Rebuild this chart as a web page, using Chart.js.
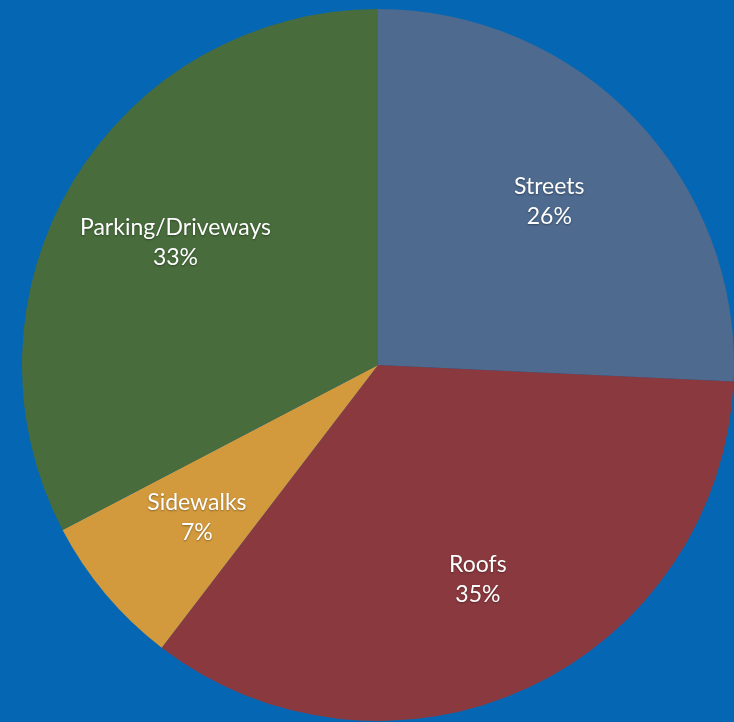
<!DOCTYPE html>
<html>
<head>
<meta charset="utf-8">
<script src="https://cdn.jsdelivr.net/npm/chart.js@4/dist/chart.umd.min.js"></script>
<style>
  html, body { margin: 0; padding: 0; width: 734px; height: 722px; overflow: hidden; background: #0567b3; }
  #wrap { position: absolute; left: 22px; top: 9px; width: 712px; height: 712px; }
</style>
</head>
<body>
<div id="wrap"><canvas id="pieChart" width="712" height="712"></canvas></div>
<script>
const categories = ['Streets', 'Roofs', 'Sidewalks', 'Parking/Driveways'];
const shares = [26, 35, 7, 33];
const sliceColors = ['#4e6a8e', '#8a3a3f', '#d39a3d', '#486c3c'];

// draws "Name" / "NN%" inside each slice, at about 2/3 of the radius
const sliceLabels = {
    id: 'sliceLabels',
    afterDatasetsDraw(chart) {
        const ctx = chart.ctx;
        const arcs = chart.getDatasetMeta(0).data;
        ctx.save();
        ctx.fillStyle = '#ffffff';
        ctx.font = '23px Lato, "Open Sans", sans-serif';
        ctx.textAlign = 'center';
        ctx.textBaseline = 'middle';
        ctx.shadowColor = 'rgba(0,0,0,0.35)';
        ctx.shadowBlur = 2;
        ctx.shadowOffsetY = 1;
        arcs.forEach((arc, i) => {
            const p = arc.getProps(['x', 'y', 'startAngle', 'endAngle', 'outerRadius'], true);
            const mid = (p.startAngle + p.endAngle) / 2;
            const r = p.outerRadius * 0.665;
            const x = p.x + Math.cos(mid) * r;
            const y = p.y + Math.sin(mid) * r;
            ctx.fillText(categories[i], x, y - 15);
            ctx.fillText(shares[i] + '%', x, y + 15);
        });
        ctx.restore();
    }
};

const ctx = document.getElementById('pieChart').getContext('2d');
const pieChart = new Chart(ctx, {
    type: 'pie',
    data: {
        labels: categories,
        datasets: [{
            data: shares,
            backgroundColor: sliceColors,
            borderWidth: 0
        }]
    },
    options: {
        responsive: false,
        animation: false,
        layout: { padding: 0 },
        plugins: {
            legend: { display: false },
            tooltip: { enabled: false }
        }
    },
    plugins: [sliceLabels]
});
</script>
</body>
</html>
